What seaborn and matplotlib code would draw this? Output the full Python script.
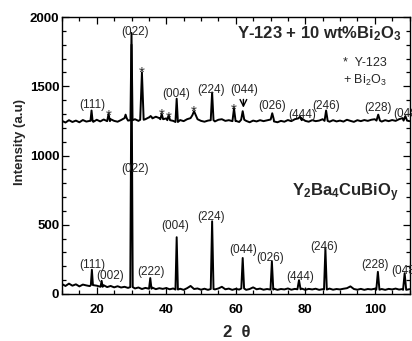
import numpy as np
import pandas as pd
import matplotlib
matplotlib.use("Agg")
import matplotlib.pyplot as plt
from matplotlib.ticker import MultipleLocator
import seaborn as sns

# ---------------- data ----------------
two_theta_grid = list(range(10, 111))

lower_baseline = [
    72, 58, 75, 60, 70, 55, 68, 62, 57, 64,
    60, 52, 63, 50, 58, 48, 56, 47, 52, 44,
    50, 40, 47, 36, 44, 38, 46, 35, 42, 37,
    43, 34, 40, 32, 38, 30, 42, 58, 36, 40,
    31, 38, 30, 36, 33, 40, 52, 34, 39, 30,
    37, 32, 40, 30, 36, 48, 34, 39, 31, 36,
    32, 38, 30, 36, 33, 40, 31, 37, 34, 39,
    30, 37, 33, 38, 30, 35, 32, 39, 31, 36,
    33, 38, 42, 55, 36, 31, 37, 30, 36, 33,
    38, 31, 36, 30, 37, 33, 39, 32, 36, 30, 35,
]

upper_baseline = [
    1250, 1238, 1255, 1242, 1252, 1240, 1256, 1245, 1250, 1243,
    1258, 1246, 1260, 1248, 1262, 1250, 1244, 1256, 1270, 1252,
    1255, 1262, 1250, 1258, 1262, 1275, 1268, 1280, 1270, 1262,
    1268, 1255, 1250, 1242, 1256, 1248, 1262, 1270, 1290, 1262,
    1250, 1244, 1252, 1255, 1246, 1258, 1262, 1250, 1255, 1248,
    1250, 1242, 1258, 1250, 1240, 1252, 1246, 1255, 1248, 1254,
    1260, 1246, 1240, 1250, 1244, 1256, 1248, 1262, 1268, 1255,
    1250, 1244, 1255, 1248, 1252, 1262, 1250, 1244, 1255, 1246,
    1252, 1245, 1258, 1250, 1243, 1255, 1248, 1256, 1250, 1258,
    1262, 1252, 1245, 1255, 1248, 1256, 1250, 1262, 1270, 1252, 1248,
]

lower_peak_pos = [18.6, 21.4, 30.0, 35.4, 43.0, 53.2, 62.0, 70.4, 78.2, 85.8, 100.9, 108.6]
lower_peak_int = [175, 95, 1800, 115, 410, 525, 260, 235, 100, 330, 160, 150]
lower_peak_wid = [0.3, 0.3, 0.35, 0.35, 0.35, 0.4, 0.4, 0.4, 0.45, 0.4, 0.45, 0.45]

upper_peak_pos = [18.5, 23.4, 28.3, 30.0, 33.0, 35.5, 38.7, 40.7, 43.0, 48.0,
                  53.2, 59.5, 62.0, 70.5, 78.5, 86.0, 101.0, 108.8]
upper_peak_int = [1325, 1300, 1295, 1885, 1600, 1285, 1300, 1290, 1410, 1320,
                  1455, 1340, 1320, 1305, 1280, 1325, 1295, 1285]
upper_peak_wid = [0.3, 0.4, 0.3, 0.3, 0.5, 0.4, 0.4, 0.4, 0.35, 0.5,
                  0.4, 0.45, 0.45, 0.45, 0.5, 0.45, 0.5, 0.5]

lower_labels = ["(111)", "(002)", "(022)", "(222)", "(004)", "(224)", "(044)",
                "(026)", "(444)", "(246)", "(228)", "(048)"]
lower_label_x = [18.6, 23.8, 31.0, 35.5, 42.5, 53.0, 62.0, 70.0, 78.5, 85.3, 100.0, 108.6]
lower_label_y = [209, 132, 905, 159, 491, 558, 318, 260, 125, 342, 209, 166]

upper_labels = ["(111)", "(022)", "(004)", "(224)", "(044)", "(026)", "(444)",
                "(246)", "(228)", "(048)"]
upper_label_x = [18.6, 31.0, 43.0, 53.0, 62.3, 70.6, 79.0, 86.0, 101.0, 109.3]
upper_label_y = [1365, 1890, 1444, 1473, 1473, 1357, 1293, 1357, 1343, 1300]

star_x = [23.4, 33.0, 38.7, 40.7, 48.0, 59.4]
star_y = [1285, 1600, 1295, 1275, 1315, 1330]

x_ticks = [20, 40, 60, 80, 100]
y_ticks = [0, 500, 1000, 1500, 2000]


def build(base_x, base_y, pos, inten, wid):
    bx = np.array(base_x, float)
    by = np.array(base_y, float)
    keep = np.ones(len(bx), bool)
    for p, w in zip(pos, wid):
        keep &= np.abs(bx - p) >= w
    xs = list(bx[keep])
    ys = list(by[keep])
    for p, h, w in zip(pos, inten, wid):
        b = by[np.argmin(np.abs(bx - p))]
        xs += [p - w, p, p + w]
        ys += [b, h, b]
    order = np.argsort(xs)
    return np.array(xs)[order], np.array(ys)[order]


lx, ly = build(two_theta_grid, lower_baseline, lower_peak_pos, lower_peak_int, lower_peak_wid)
ux, uy = build(two_theta_grid, upper_baseline, upper_peak_pos, upper_peak_int, upper_peak_wid)
df = pd.concat([
    pd.DataFrame({"two_theta": lx, "intensity": ly, "sample": "Y2Ba4CuBiOy"}),
    pd.DataFrame({"two_theta": ux, "intensity": uy, "sample": "Y-123 + Bi2O3"}),
])

# ---------------- style ----------------
sns.set_theme(style="ticks")
plt.rcParams["font.family"] = ["Liberation Sans", "DejaVu Sans"]
plt.rcParams["mathtext.default"] = "regular"

fig = plt.figure(figsize=(4.12, 3.41), dpi=100)
ax = fig.add_axes([62 / 412, 1 - 294 / 341, 347.5 / 412, 277 / 341])

sns.lineplot(data=df, x="two_theta", y="intensity", units="sample",
             estimator=None, color="black", linewidth=1.4, ax=ax, legend=False)

ax.set_xlim(10, 110)
ax.set_ylim(0, 2000)
ax.set_xticks(x_ticks)
ax.set_yticks(y_ticks)
ax.xaxis.set_minor_locator(MultipleLocator(5))
ax.yaxis.set_minor_locator(MultipleLocator(100))
ax.tick_params(which="both", direction="in", top=True, right=True, width=0.9, colors="black")
ax.tick_params(which="major", length=5)
ax.tick_params(which="minor", length=3)
ax.tick_params(axis="x", pad=7)
ax.tick_params(axis="y", pad=2)
for lab in ax.get_xticklabels() + ax.get_yticklabels():
    lab.set_fontweight("bold")
    lab.set_fontsize(9.5)
for sp in ax.spines.values():
    sp.set_linewidth(1.0)
    sp.set_color("black")

ax.set_xlabel("2  θ", fontsize=12, fontweight="bold")
ax.xaxis.set_label_coords(0.504, -0.112)
ax.set_ylabel("Intensity (a.u)", fontsize=9.5, fontweight="bold")
ax.yaxis.set_label_coords(-0.104, 0.549)

for t, x, y in zip(lower_labels, lower_label_x, lower_label_y):
    ax.text(x, y, t, fontsize=8.5, ha="center", va="center")
for t, x, y in zip(upper_labels, upper_label_x, upper_label_y):
    ax.text(x, y, t, fontsize=8.5, ha="center", va="center")
for x, y in zip(star_x, star_y):
    ax.text(x, y, "*", fontsize=11, ha="center", va="center")

ax.annotate("", xy=(62.2, 1325), xytext=(62.2, 1425),
            arrowprops=dict(arrowstyle="->", lw=1.0, color="black"))

ax.text(107.6, 1848, "Y-123 + 10 wt%Bi$_2$O$_3$", fontsize=12, fontweight="bold",
        ha="right", va="baseline")
ax.text(107.0, 702, "Y$_2$Ba$_4$CuBiO$_y$", fontsize=12, fontweight="bold",
        ha="right", va="baseline")
ax.text(90.9, 1668, "*  Y-123", fontsize=9, ha="left", va="center")
ax.text(90.9, 1545, "+ Bi$_2$O$_3$", fontsize=9, ha="left", va="center")

fig.savefig("out.png", dpi=100)
